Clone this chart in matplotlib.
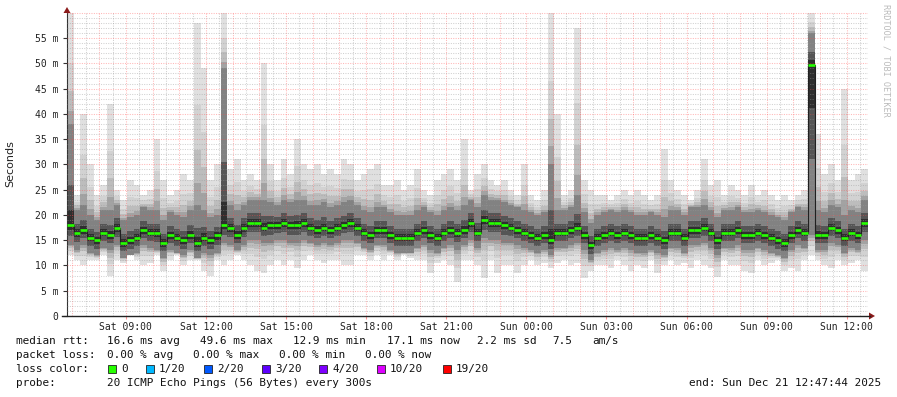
import numpy as np
import matplotlib
matplotlib.use("Agg")
import matplotlib.pyplot as plt
from matplotlib.patches import Polygon, Rectangle
from matplotlib.lines import Line2D

# --- data: 15 minute steps, start Sat 06:47:44, end Sun 12:47:44 (values in ms) ---
step_h = 0.25

med = [
    18, 16.5, 17, 15.5, 15, 16.5, 16, 17.5, 14.5, 15,
    15.5, 17, 16.5, 16.5, 14.5, 16, 15.5, 15, 16, 14.5,
    15.5, 15, 16, 18, 17.5, 16, 17.5, 18.5, 18.5, 17.5,
    18, 18, 18.5, 18, 18, 18.5, 17.5, 17, 17.5, 17,
    17.5, 18, 18.5, 17.5, 16.5, 16, 17, 17, 16, 15.5,
    15.5, 15.5, 16.5, 17, 16, 15.5, 16.5, 17, 16.5, 17,
    18.5, 16.5, 19, 18.5, 18.5, 18, 17.5, 17, 16.5, 16,
    15.5, 16, 15, 16.5, 16.5, 17, 17.5, 16, 14, 15.5,
    16, 16.5, 16, 16.5, 16, 15.5, 15.5, 16, 15.5, 15,
    16.5, 16.5, 15.5, 17, 17, 17.5, 16.5, 15, 16.5, 16.5,
    17, 16, 16, 16.5, 16, 15.5, 15, 14.5, 16, 17,
    16.5, 49.6, 16, 16, 17.5, 17, 15.5, 16.5, 16, 18.5,
]

lo = [
    14, 13, 14, 12.5, 12, 13.5, 13, 14, 11.5, 12,
    12.5, 14, 13.5, 13, 11.5, 13, 12.5, 12, 13, 11.5,
    12.5, 12, 12.5, 14.5, 14, 13, 14, 15, 15, 14.5,
    14.5, 15, 15, 14.5, 14.5, 15, 14.5, 14, 14.5, 14,
    14.5, 15, 15, 14.5, 13.5, 13, 14, 14, 13, 12.5,
    12.5, 12.5, 13.5, 14, 13, 12.5, 13.5, 14, 13, 14,
    15, 13.5, 15.5, 15, 15, 14.5, 14.5, 14, 13.5, 13,
    12.5, 13, 12, 13.5, 13.5, 14, 14.5, 13, 11, 12.5,
    13, 13.5, 13, 13.5, 13, 12.5, 12.5, 13, 12.5, 12,
    13.5, 13.5, 12.5, 14, 14, 14.5, 13.5, 12, 13.5, 13.5,
    14, 13, 13, 13.5, 13, 12.5, 12, 11.5, 13, 14,
    13.5, 16, 13, 13, 14.5, 14, 12.5, 13.5, 13, 15,
]

hi = [
    38, 21, 22, 20, 19, 21, 21, 22, 19, 19.5,
    20, 21.5, 21, 21, 19, 20.5, 20, 19.5, 21, 22,
    21, 19.5, 20, 49, 22, 21, 22, 23, 23, 23,
    22.5, 22, 23, 22.5, 23, 23, 22, 22, 22.5, 21.5,
    22, 22.5, 23, 22, 21, 20.5, 21.5, 21.5, 20.5, 20,
    20, 20, 21, 21.5, 20.5, 20, 21, 21.5, 21, 22,
    23, 21.5, 24, 23, 23, 22.5, 22, 21.5, 21, 20.5,
    20, 20.5, 30, 21, 21, 21.5, 24, 20.5, 18.5, 20,
    20.5, 21, 20.5, 21, 20.5, 20, 20, 20.5, 20, 19.5,
    21, 21, 20, 21.5, 21.5, 22, 21, 19.5, 21, 21,
    21.5, 20.5, 20.5, 21, 20.5, 20, 19.5, 19, 20.5, 21.5,
    21, 56, 21, 20.5, 22, 21.5, 20, 21, 20.5, 23,
]

rtt_min = [
    12, 11, 10, 11, 11, 12, 8, 11, 10.5, 12,
    11, 10, 10.5, 12, 9, 11, 12, 10, 11, 11,
    9, 8, 11, 10, 11, 12, 11, 10, 9, 8.5,
    10, 11, 10, 11, 9.5, 11, 12, 11, 10.5, 11,
    11, 10, 10, 12, 12, 11, 12, 11, 12, 11,
    12, 11.5, 11, 11, 8.5, 10.5, 11, 10, 6.7, 11,
    11, 10, 7.5, 11, 8.5, 10, 10, 8.5, 10, 11,
    10, 10.5, 9.5, 10.5, 11, 10, 10.5, 7.5, 9, 10,
    10, 9.5, 11, 10, 9, 10, 9.5, 11, 8.5, 10,
    11, 10, 10.5, 9.5, 11, 10, 9.5, 7.8, 11, 10,
    10, 9, 8.5, 11, 10, 10.5, 11, 9, 9.5, 9,
    11, 12, 11, 10, 9.5, 11, 10, 10.5, 11, 9,
]

rtt_max = [
    60, 24, 40, 30, 24, 26, 42, 25, 23, 27,
    26, 24, 25, 35, 27, 24, 25, 28, 27, 58,
    49, 27, 30, 60, 29, 31, 27, 28, 27, 50,
    30, 27, 31, 28, 35, 30, 29, 30, 28, 29,
    28, 31, 30, 27, 28, 29, 30, 26, 26, 27,
    25, 26, 29, 25, 24, 27, 28, 29, 27, 35,
    25, 28, 30, 27, 26, 27, 25, 24, 30, 24,
    23, 25, 60, 40, 24, 25, 57, 27, 25, 24,
    24, 23, 24, 25, 24, 25, 24, 23, 24, 33,
    27, 25, 24, 23, 25, 31, 26, 27, 24, 26,
    25, 24, 26, 24, 25, 24, 23, 24, 23, 24,
    25, 60, 36, 28, 30, 27, 45, 27, 28, 29,
]

x_labels = ["Sat 09:00", "Sat 12:00", "Sat 15:00", "Sat 18:00", "Sat 21:00",
            "Sun 00:00", "Sun 03:00", "Sun 06:00", "Sun 09:00", "Sun 12:00"]
first_label_h = 2.2044          # Sat 09:00 relative to graph start
y_ticks = list(range(0, 60, 5))
y_labels = ["0"] + ["%d m" % v for v in y_ticks[1:]]

loss_names = ["0", "1/20", "2/20", "3/20", "4/20", "10/20", "19/20"]
loss_colors = ["#26ff00", "#00b8ff", "#0059ff", "#5e00ff", "#7e00ff", "#dd00ff", "#ff0000"]

# --- figure ---
W, H = 897, 397
fig = plt.figure(figsize=(W / 100, H / 100), dpi=100, facecolor="white")


def px(x, y):
    return x / W, 1 - y / H


X0, X1, Y0, Y1 = 67, 868, 316, 12
ax = fig.add_axes([X0 / W, 1 - Y0 / H, (X1 - X0) / W, (Y0 - Y1) / H])
n = len(med)
ax.set_xlim(0, n * step_h)
ax.set_ylim(0, 60.15)

xe = np.arange(n + 1) * step_h


def ext(a):
    a = np.asarray(a, dtype=float)
    return np.append(a, a[-1])


med_a, lo_a, hi_a = np.array(med), np.array(lo), np.array(hi)
mn_a, mx_a = np.array(rtt_min), np.array(rtt_max)

# smoke: shade from outer (min/max) to inner (dark band)
fracs = [1.0, 0.55, 0.3, 0.12, 0.0]
shades = ["#e0e0e0", "#d2d2d2", "#bdbdbd", "#a3a3a3", "#828282"]
for f, c in zip(fracs, shades):
    bot = lo_a + (mn_a - lo_a) * f
    top = hi_a + (mx_a - hi_a) * f
    ax.fill_between(xe, ext(bot), ext(top), step="post", color=c, lw=0, zorder=1)
ax.fill_between(xe, ext(med_a - (med_a - lo_a) * 0.55), ext(med_a + (hi_a - med_a) * 0.4),
                step="post", color="#555555", lw=0, zorder=1)
ax.fill_between(xe, ext(med_a - (med_a - lo_a) * 0.25), ext(med_a + (hi_a - med_a) * 0.15),
                step="post", color="#2e2e2e", lw=0, zorder=1)

# grid drawn over the smoke, like rrdtool
for h in np.arange(first_label_h - 2.0, 30, 0.5):
    if h <= 0:
        continue
    r = (h - first_label_h) % 1.0
    major = min(r, 1 - r) < 1e-6
    col = (1, 0.3, 0.3, 0.4) if major else (0.6, 0.6, 0.6, 0.45)
    ax.axvline(h, color=col, lw=0.75, dashes=(1, 1.3), zorder=3)
for v in range(1, 61):
    col = (1, 0.3, 0.3, 0.4) if v % 5 == 0 else (0.6, 0.6, 0.6, 0.45)
    ax.axhline(v, color=col, lw=0.75, dashes=(1, 1.3), zorder=3)

# median: dark step line with green markers (loss 0)
ax.step(xe, ext(med_a), where="post", color="#202020", lw=0.8, zorder=4)
ax.hlines(med_a, xe[:-1], xe[1:], color=loss_colors[0], lw=1.9, zorder=5)

# axes styling
for s in ["top", "right"]:
    ax.spines[s].set_visible(False)
ax.spines["left"].set_color("#333333")
ax.spines["bottom"].set_visible(False)
ax.set_facecolor("white")

ax.set_yticks(y_ticks)
ax.set_yticklabels(y_labels, family="DejaVu Sans Mono", fontsize=7, color="#222222")
ax.set_xticks([first_label_h + 3 * k for k in range(len(x_labels))])
ax.set_xticklabels(x_labels, family="DejaVu Sans Mono", fontsize=7, color="#222222")
ax.tick_params(axis="y", length=3, pad=3, color="#333333")
ax.tick_params(axis="x", length=2, pad=2, color=(1, 0.3, 0.3, 0.6))

# x axis line and arrows
fig.add_artist(Line2D([62 / W, 870 / W], [1 - Y0 / H, 1 - Y0 / H], color="#222222", lw=1))
fig.add_artist(Polygon([px(869, 312.5), px(869, 319.5), px(875, 316)], closed=True,
                       color="#8b1a1a", lw=0))
fig.add_artist(Polygon([px(63.5, 13), px(70.5, 13), px(67, 7)], closed=True,
                       color="#8b1a1a", lw=0))

fig.text(*px(10, 164), "Seconds", rotation=90, ha="center", va="center",
         fontsize=8, color="#222222")
fig.text(*px(886, 4), "RRDTOOL / TOBI OETIKER", rotation=270, ha="center", va="top",
         family="DejaVu Sans Mono", fontsize=6.1, color="#bbbbbb")

# legend block
mono = dict(family="DejaVu Sans Mono", fontsize=7.9, color="#111111", va="center")
row1 = [(16, "median rtt:"), (107, "16.6 ms avg"), (200, "49.6 ms max"),
        (293, "12.9 ms min"), (387, "17.1 ms now"), (477, "2.2 ms sd"),
        (552, "7.5"), (592, "am/s")]
row2 = [(16, "packet loss:"), (107, "0.00 % avg"), (193, "0.00 % max"),
        (279, "0.00 % min"), (365, "0.00 % now")]
for xx, t in row1:
    fig.text(*px(xx, 341), t, **mono)
for xx, t in row2:
    fig.text(*px(xx, 355), t, **mono)

fig.text(*px(16, 369), "loss color:", **mono)
box_x = [108, 146, 204, 262, 319, 377, 443]
for bx, name, col in zip(box_x, loss_names, loss_colors):
    fx, fy = px(bx, 373)
    fig.add_artist(Rectangle((fx, fy), 8 / W, 8 / H, facecolor=col,
                             edgecolor="#222222", lw=0.6))
    fig.text(*px(bx + 13, 369), name, **mono)

fig.text(*px(16, 383), "probe:", **mono)
fig.text(*px(107, 383), "20 ICMP Echo Pings (56 Bytes) every 300s", **mono)
fig.text(*px(881, 383), "end: Sun Dec 21 12:47:44 2025", ha="right", **mono)

fig.savefig("out.png", dpi=100, facecolor="white")
